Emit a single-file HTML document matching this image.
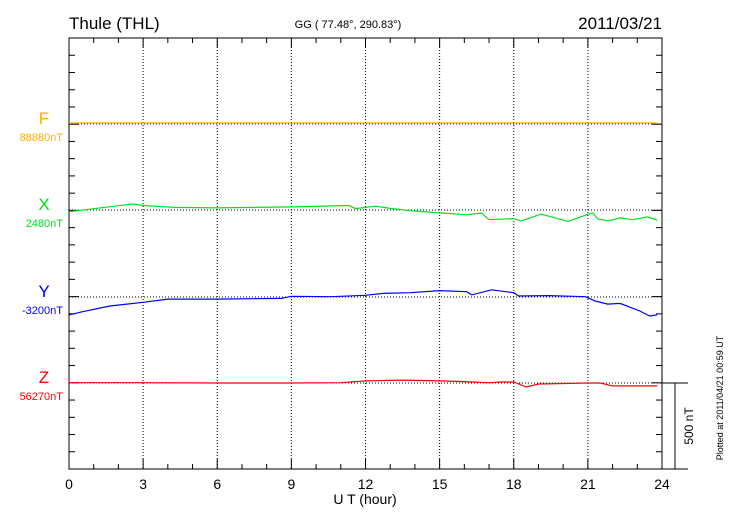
<!DOCTYPE html>
<html><head><meta charset="utf-8"><style>
body{margin:0;background:#fff}
svg{display:block;font-family:"Liberation Sans",sans-serif}
</style></head><body>
<svg id="c" width="730" height="520"></svg>
<script>
const hoursX=[0,2.0,2.6,3.0,4.3,6.0,7.5,9.1,11.3,11.6,12.4,13.0,13.8,15.0,16.1,16.7,17.0,18.0,18.3,19.1,20.2,21.0,21.2,21.4,21.8,22.3,22.8,23.4,23.8];
const valsX=[-10,25,35,26,15,12,15,18,26,8,22,9,-4,-17,-27,-18,-56,-50,-63,-24,-66,-25,-17,-52,-63,-46,-56,-40,-58];
const hoursY=[0,0.55,1.65,3,4,5.9,8.6,9,10.6,12,12.7,13.8,15,16.1,16.3,17.1,18,18.2,19.4,20.9,21.3,21.8,22.3,23.1,23.5,23.8];
const valsY=[-104,-85,-52,-31,-12,-12,-8,4,2,10,21,25,37,31,12,42,25,6,8,2,-23,-41,-37,-81,-110,-104];
const hoursZ=[0,3,6,9,11,12,13.5,15,16,17,17.5,18,18.5,19,21,21.5,22,23.8];
const valsZ=[2,2,0,0,2,12,17,12,8,2,6,6,-23,-6,0,0,-17,-17];
const hoursF=[0,23.8];
const valsF=[6,6];
const hourTicks=[0,3,6,9,12,15,18,21,24];
const NS="http://www.w3.org/2000/svg";
const svg=document.getElementById('c');
const L=69,R=662,T=38,B=469;
const xs=h=>L+h*(R-L)/24;
const pxPerNT=17.25/100;
function el(t,a,p){const e=document.createElementNS(NS,t);for(const k in a)e.setAttribute(k,a[k]);(p||svg).appendChild(e);return e;}
function txt(s,a){const e=el('text',a);e.textContent=s;return e;}
// grid
hourTicks.slice(1,-1).forEach(h=>{const g=el('line',{x1:xs(h),x2:xs(h),y1:T,y2:B,stroke:'#000','stroke-dasharray':'1,2','stroke-width':1});

});
const bases=[124,210,297,383];
bases.forEach(y=>{const g=el('line',{x1:L,x2:R,y1:y,y2:y,stroke:'#000','stroke-dasharray':'1,2'});

});
// frame
const fr=el('rect',{x:L,y:T,width:R-L,height:B-T,fill:'none',stroke:'#000','stroke-width':1});


// y ticks
for(let i=0;i<=25;i++){const y=T+i*(B-T)/25;const big=bases.some(b=>Math.abs(b-y)<2);const len=big?10:6;
el('line',{x1:L,x2:L+len,y1:y,y2:y,stroke:'#000'});el('line',{x1:R-len,x2:R,y1:y,y2:y,stroke:'#000'});}
// x ticks
for(let h=0;h<=24;h++){const x=xs(h);const len=h%3==0?10:5;el('line',{x1:x,x2:x,y1:B,y2:B-len,stroke:'#000'});el('line',{x1:x,x2:x,y1:T,y2:T+len,stroke:'#000'});}
hourTicks.forEach(h=>{const t=txt(String(h),{x:xs(h),y:489,'font-size':14,'text-anchor':'middle'});

});
const xt=txt('U T (hour)',{x:365,y:504,'font-size':14,'text-anchor':'middle'});


// series
const series=[['F',hoursF,valsF,124,'#ffb000','88880nT'],['X',hoursX,valsX,210,'#00e020','2480nT'],['Y',hoursY,valsY,297,'#0000ff','-3200nT'],['Z',hoursZ,valsZ,383,'#ff0000','56270nT']];
series.forEach(([n,hs,vs,b,c,lab])=>{
const d=hs.map((h,i)=>(i?'L':'M')+xs(h).toFixed(1)+','+(b-vs[i]*pxPerNT).toFixed(1)).join('');
const p=el('path',{d:d,fill:'none',stroke:c,'stroke-width':1.2});


const t1=txt(n,{x:44,y:b,'font-size':17,fill:c,'text-anchor':'middle'});


const t2=txt(lab,{x:63,y:b+17,'font-size':11,fill:c,'text-anchor':'end'});


});
// scale bar
el('line',{x1:R,x2:688,y1:383,y2:383,stroke:'#000'});
el('line',{x1:R,x2:688,y1:469,y2:469,stroke:'#000'});
const sb=el('line',{x1:675,x2:675,y1:383,y2:469,stroke:'#000'});


const st=txt('500 nT',{x:0,y:0,'font-size':12,'text-anchor':'middle',transform:'translate(693,426) rotate(-90)'});


const pt=txt('Plotted at 2011/04/21 00:59 UT',{x:0,y:0,'font-size':9,'text-anchor':'middle',transform:'translate(723,398) rotate(-90)'});


// titles
const t1=txt('Thule (THL)',{x:69,y:29,'font-size':17});


const t2=txt('GG ( 77.48°, 290.83°)',{x:348,y:28,'font-size':11,'text-anchor':'middle'});


const t3=txt('2011/03/21',{x:662,y:29,'font-size':17,'text-anchor':'end'});


</script>
</body></html>
